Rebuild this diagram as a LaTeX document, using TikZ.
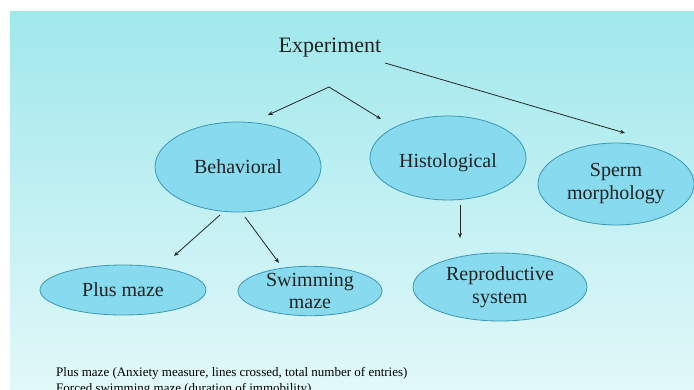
\documentclass[tikz,border=0pt]{standalone}
\usepackage{fontspec}
\setmainfont{Liberation Serif}
\usetikzlibrary{shapes.geometric,arrows.meta}
\definecolor{bgtop}{HTML}{A0E8EC}
\definecolor{bgbot}{HTML}{E2F8F9}
\definecolor{ellfill}{HTML}{88DAEE}
\definecolor{elldraw}{HTML}{3A98B4}
\definecolor{txt}{HTML}{222222}
\tikzset{
  oval/.style={ellipse, draw=elldraw, fill=ellfill, line width=0.8pt, inner sep=0pt, text=txt, align=center, font=\fontsize{20}{23}\selectfont},
  arr/.style={-{Stealth[length=5pt,width=4pt]}, line width=0.8pt, draw=black!85},
  note/.style={anchor=base west, inner sep=0pt, text=black, font=\fontsize{13}{14}\selectfont}
}
\begin{document}
\begin{tikzpicture}[x=1pt,y=-1pt]
\useasboundingbox (0,0) rectangle (694,389);
\clip (0,0) rectangle (694,389);
\shade[top color=bgtop, bottom color=bgbot] (10,11) rectangle (694,389);
\node[text=txt, font=\fontsize{22}{24}\selectfont, inner sep=0pt] (exp) at (330,48) {Experiment};
\node[oval, minimum width=166pt, minimum height=90pt] (beh) at (238,167) {Behavioral};
\node[oval, minimum width=156pt, minimum height=84pt] (his) at (448,158) {\raisebox{-4pt}[14pt][4pt]{Histological}};
\node[oval, minimum width=156pt, minimum height=82pt] (spe) at (616,184) {Sperm\\morphology};
\node[oval, minimum width=166pt, minimum height=50pt] (plu) at (123,290) {Plus maze};
\node[oval, minimum width=144pt, minimum height=48pt, font=\fontsize{20}{21.5}\selectfont] (swi) at (310,291) {Swimming\\maze};
\node[oval, minimum width=174pt, minimum height=68pt] (rep) at (500,287) {Reproductive\\system};
\coordinate (e1) at (329,87);
\coordinate (e2) at (385,63);
\coordinate (b1) at (220,215);
\coordinate (b2) at (245,217);
\coordinate (h1) at (460,205);
\draw[arr] (e1) -- (268,115) coordinate (t1);
\draw[arr] (e1) -- (381,119);
\draw[arr] (e2) -- (625,133);
\draw[arr] (b1) -- (174,256);
\draw[arr] (b2) -- (279,263);
\draw[arr] (h1) -- (460,238);
\node[note] (n1) at (56,376) {Plus maze (Anxiety measure, lines crossed, total number of entries)};
\node[note] (n2) at (56,392) {Forced swimming maze (duration of immobility)};
\end{tikzpicture}
\end{document}
